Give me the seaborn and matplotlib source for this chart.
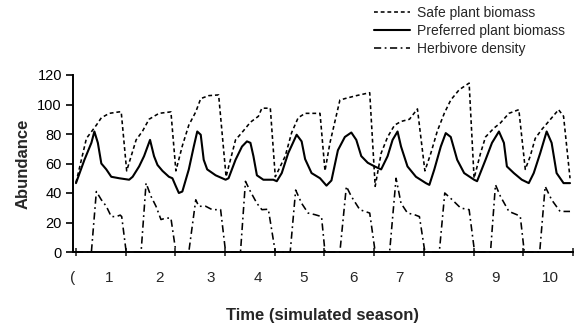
import numpy as np
import pandas as pd
import matplotlib
matplotlib.use("Agg")
import matplotlib.pyplot as plt
import seaborn as sns

# Season time (x) and abundance (y), one set per series
safe_t = [0.0, 0.21, 0.41, 0.51, 0.67, 0.87, 0.91, 1.02, 1.21, 1.34, 1.47, 1.67,
          1.91, 2.01, 2.14, 2.27, 2.41, 2.51, 2.67, 2.87, 3.02, 3.21, 3.34, 3.51,
          3.67, 3.74, 3.91, 4.01, 4.21, 4.34, 4.47, 4.61, 4.91, 5.01, 5.11, 5.21,
          5.31, 5.41, 5.64, 5.91, 6.02, 6.14, 6.27, 6.41, 6.54, 6.71, 6.87, 7.02,
          7.14, 7.27, 7.41, 7.54, 7.71, 7.91, 8.01, 8.14, 8.24, 8.41, 8.54, 8.71,
          8.91, 9.04, 9.14, 9.24, 9.37, 9.51, 9.71, 9.81, 9.94]
safe_y = [47, 77, 86, 91, 94, 95, 95, 55, 76, 82, 90, 94,
          95, 55, 72, 86, 95, 104, 106, 106.5, 51, 76, 81, 88,
          92, 97.5, 97.5, 51, 65, 81, 91, 94, 94, 55, 74, 88.5,
          103, 104, 106, 108, 44.5, 67, 78, 86, 88.5, 90, 97, 55,
          67, 82, 94, 103, 110, 114.5, 50, 67, 78, 84, 87.5, 94,
          96.5, 56, 65, 77, 83, 88.5, 96.5, 92, 50]

pref_t = [0.0, 0.17, 0.31, 0.37, 0.44, 0.51, 0.61, 0.71, 0.87, 1.07, 1.14, 1.27,
          1.37, 1.49, 1.57, 1.64, 1.74, 1.87, 1.94, 2.01, 2.07, 2.14, 2.27, 2.37,
          2.44, 2.51, 2.57, 2.64, 2.81, 3.01, 3.07, 3.21, 3.34, 3.44, 3.51, 3.57,
          3.64, 3.77, 3.97, 4.04, 4.14, 4.27, 4.44, 4.54, 4.61, 4.74, 4.91, 5.04,
          5.14, 5.27, 5.41, 5.54, 5.64, 5.74, 5.87, 6.01, 6.14, 6.27, 6.37, 6.47,
          6.54, 6.67, 6.84, 7.04, 7.11, 7.21, 7.34, 7.44, 7.54, 7.67, 7.81, 8.01,
          8.07, 8.24, 8.37, 8.51, 8.61, 8.67, 8.81, 8.97, 9.11, 9.21, 9.34, 9.47,
          9.57, 9.67, 9.81, 9.94]
pref_y = [46.7, 62.5, 74, 81.7, 74, 60, 56, 51, 50, 49, 51, 58,
          65, 76, 65, 59, 55, 51, 50, 44.5, 40, 41, 56, 71.5,
          81.7, 79.5, 62.5, 56, 52, 49, 50, 62.5, 71.5, 75, 74, 65,
          52, 49, 49, 48, 53.5, 67, 79.5, 75, 63, 53.5, 50, 45,
          48.5, 69, 78, 81, 76, 65, 60.5, 58, 56, 65, 76, 81.7,
          71.5, 58, 51, 46.7, 45.5, 56, 71.5, 80.6, 78, 62.5, 53.5, 49,
          48, 62.5, 74, 81.7, 74, 58, 53.5, 49, 46.7, 53.5, 67, 81.7,
          74, 53.5, 46.7, 46.7]

herb_t = [0.0, 0.31, 0.41, 0.51, 0.61, 0.71, 0.81, 0.89, 0.92, 1.01, 1.31, 1.41,
          1.51, 1.61, 1.71, 1.81, 1.91, 2.01, 2.27, 2.41, 2.47, 2.61, 2.74, 2.91,
          3.01, 3.31, 3.41, 3.51, 3.64, 3.74, 3.87, 4.01, 4.31, 4.42, 4.54, 4.67,
          4.81, 4.94, 5.01, 5.31, 5.44, 5.54, 5.71, 5.91, 6.02, 6.31, 6.44, 6.54,
          6.67, 6.81, 6.91, 7.02, 7.31, 7.42, 7.57, 7.74, 7.91, 8.02, 8.34, 8.44,
          8.54, 8.71, 8.87, 8.94, 9.02, 9.33, 9.44, 9.57, 9.74, 9.94]
herb_y = [0, 0, 41, 35.4, 31, 24, 24, 25, 24, 0, 0, 46.7,
          37.7, 31, 22, 23, 23, 0, 0, 35.4, 31, 31, 28.7, 28.7,
          0, 0, 47.9, 41, 33, 28.7, 29, 0, 0, 42, 33, 26.4,
          25.3, 24, 0, 0, 44.5, 37.7, 28.7, 26.4, 0, 0, 50, 33,
          26.4, 25.3, 24, 0, 0, 40, 35.4, 29.8, 28.7, 0, 0, 45.6,
          37.7, 27.5, 25.3, 24, 0, 0, 44.5, 35.4, 27.5, 27.5]

series_names = ["Safe plant biomass", "Preferred plant biomass", "Herbivore density"]
season_ticks = list(range(0, 11))
season_labels = ["(", "1", "2", "3", "4", "5", "6", "7", "8", "9", "10"]
label_pos = [-0.06, 0.66, 1.68, 2.72, 3.66, 4.58, 5.58, 6.5, 7.5, 8.44, 9.54]

df = pd.concat([
    pd.DataFrame({"t": safe_t, "value": safe_y, "series": series_names[0]}),
    pd.DataFrame({"t": pref_t, "value": pref_y, "series": series_names[1]}),
    pd.DataFrame({"t": herb_t, "value": herb_y, "series": series_names[2]}),
], ignore_index=True)

sns.set_style("ticks")
plt.rcParams["font.family"] = ["Liberation Sans", "DejaVu Sans"]

fig = plt.figure(figsize=(5.74, 3.23), dpi=100)
ax = fig.add_axes([73 / 574, 1 - 252 / 323, 500 / 574, 177 / 323])

sns.lineplot(
    data=df, x="t", y="value", style="series", size="series",
    style_order=series_names, size_order=series_names,
    dashes={series_names[0]: (2.4, 1.8), series_names[1]: "",
            series_names[2]: (4.5, 2.2, 1.1, 2.2)},
    sizes={series_names[0]: 1.15, series_names[1]: 1.5, series_names[2]: 1.15},
    color="black", estimator=None, sort=False, ax=ax, clip_on=False,
)

ax.set_xlim(0, 10)
ax.set_ylim(0, 120)
ax.set_yticks(range(0, 121, 20))
ax.tick_params(axis="y", direction="out", length=5, width=1.2, labelsize=10.5,
               pad=3, colors="black")
ax.set_xticks(season_ticks)
ax.set_xticklabels([])
ax.tick_params(axis="x", which="major", direction="inout", length=6, width=1.2)
ax.set_xticks(label_pos, season_labels, minor=True)
ax.tick_params(axis="x", which="minor", length=0, labelsize=11, pad=14)

for s in ["top", "right"]:
    ax.spines[s].set_visible(False)
for s in ["left", "bottom"]:
    ax.spines[s].set_linewidth(1.4)
    ax.spines[s].set_color("black")

ax.set_xlabel("Time (simulated season)", fontsize=12, fontweight="bold", labelpad=16)
ax.set_ylabel("Abundance", fontsize=12, fontweight="bold", labelpad=5)

leg = ax.get_legend()
handles = leg.legend_handles
labels = [t.get_text() for t in leg.get_texts()]
leg.remove()
fig.legend(handles, labels, loc="upper left", bbox_to_anchor=(374 / 574, 1 - 6 / 323),
           frameon=False, fontsize=10, handlelength=2.6, handletextpad=0.5,
           labelspacing=0.3, borderpad=0, borderaxespad=0)

fig.savefig("out.png", dpi=100)
